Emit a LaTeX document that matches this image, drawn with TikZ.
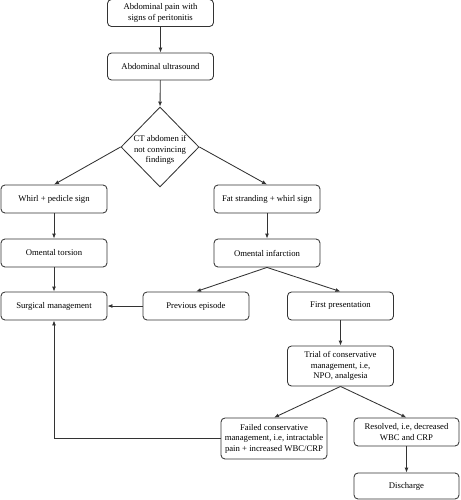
\documentclass[tikz,border=0pt]{standalone}
\usepackage{fontspec}
\setmainfont{Liberation Serif}
\usetikzlibrary{shapes.geometric,arrows.meta}
\begin{document}
\begin{tikzpicture}[x=1pt,y=-1pt,
  box/.style={draw=black!80, line width=0.85pt, rounded corners=4pt,
    minimum width=106pt, minimum height=27pt, align=center, inner sep=1pt,
    font=\fontsize{8.7}{10.5}\selectfont},
  dia/.style={draw=black!80, line width=0.85pt, diamond, minimum width=78pt,
    minimum height=80pt, inner sep=0pt},
  txt/.style={align=center, font=\fontsize{8.7}{10.5}\selectfont},
  arr/.style={draw=black!80, line width=0.85pt, -{Latex[length=5pt,width=4pt]}}
]
\useasboundingbox (0,0) rectangle (460,500);
\node[box] (b1) at (160.5,13) {Abdominal pain with\\signs of peritonitis};
\node[box] (b2) at (160.5,66.5) {Abdominal ultrasound};
\node[dia] (dia) at (160,147) {};
\node[txt] (diat) at (160,150) {CT abdomen if\\not convincing\\findings};
\node[box, minimum height=28pt] (whirl) at (54,199) {Whirl + pedicle sign};
\node[box, minimum height=28pt] (fat) at (267,199) {Fat stranding + whirl sign};
\node[box, minimum height=28pt] (torsion) at (54,253) {Omental torsion};
\node[box, minimum height=28pt] (infarct) at (267,253) {Omental infarction};
\node[box, minimum height=28pt] (surg) at (54,306) {Surgical management};
\node[box, minimum height=28pt] (prev) at (196,306) {Previous episode};
\node[box, minimum height=28pt] (first) at (340.5,306) {First presentation};
\node[box, minimum height=40pt] (trial) at (340.5,366) {Trial of conservative\\management, i.e,\\NPO, analgesia};
\node[box, minimum height=41pt] (failed) at (274,438.5) {Failed conservative\\management, i.e, intractable\\pain + increased WBC/CRP};
\node[box, minimum width=105pt, minimum height=28pt] (resolved) at (406.5,432) {Resolved, i.e, decreased\\WBC and CRP};
\node[box, minimum width=105pt, minimum height=26pt] (discharge) at (406.5,486) {Discharge};
\draw[arr] (b1) -- (b2);
\draw[arr] (b2) -- (dia.north);
\draw[arr] (dia.west) -- (whirl.north);
\draw[arr] (dia.east) -- (fat.north);
\draw[arr] (whirl) -- (torsion);
\draw[arr] (fat) -- (infarct);
\draw[arr] (torsion) -- (surg);
\draw[arr] (infarct.south) -- (prev.north);
\draw[arr] (infarct.south) -- (first.north);
\draw[arr] (prev) -- (surg);
\draw[arr] (first) -- (trial);
\draw[arr] (trial.south) -- (failed.north);
\draw[arr] (trial.south) -- (resolved.north);
\draw[arr] (resolved) -- (discharge);
\draw[arr] (failed.west) -| (surg.south);
\end{tikzpicture}
\end{document}
